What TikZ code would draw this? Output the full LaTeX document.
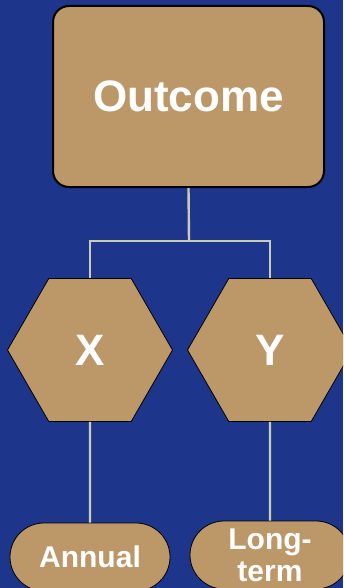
\documentclass[tikz,border=0pt]{standalone}
\usepackage{fontspec}
\setmainfont{Liberation Sans}
\usetikzlibrary{shapes.geometric,shapes.misc}

\definecolor{deepblue}{RGB}{29,53,139}
\definecolor{sand}{RGB}{188,151,104}
\definecolor{sage}{RGB}{200,205,180}

\begin{document}
\begin{tikzpicture}[x=1pt,y=-1pt,
    every node/.style={text=white,font=\bfseries},
    hexbox/.style={regular polygon,regular polygon sides=6,minimum size=165pt,
      inner sep=0pt,fill=sand,draw=black,line width=0.8pt,
      font=\bfseries\fontsize{44}{50}\selectfont},
    pill/.style={rounded rectangle,minimum width=160pt,minimum height=68pt,
      inner sep=0pt,fill=sand,draw=black,line width=0.8pt,align=center,
      font=\bfseries\fontsize{30}{32}\selectfont},
    link/.style={draw=sage,line width=2.4pt}]
    \useasboundingbox (0,0) rectangle (343,588);
    \fill[deepblue] (0,0) rectangle (343,588);
    \clip (0,0) rectangle (343,588);
    % boxes
    \node[draw=black,line width=2pt,fill=sand,rounded corners=16pt,
      minimum width=271pt,minimum height=181pt,
      font=\bfseries\fontsize{44}{50}\selectfont] (out) at (188.5,96.5) {Outcome};
    \node[hexbox] (hx) at (90,350) {X};
    \node[hexbox] (hy) at (270,350) {Y};
    \node[pill] (annual) at (90,557) {Annual};
    \node[pill] (longterm) at (270,555) {Long-\\term};
    % links
    \coordinate (fork) at (189,241);
    \draw[link] (out.south) -- (fork);
    \draw[link] (hx.north) |- (fork) -| (hy.north);
    \draw[link] (hx.south) -- (annual.north);
    \draw[link] (hy.south) -- (longterm.north);
\end{tikzpicture}
\end{document}
